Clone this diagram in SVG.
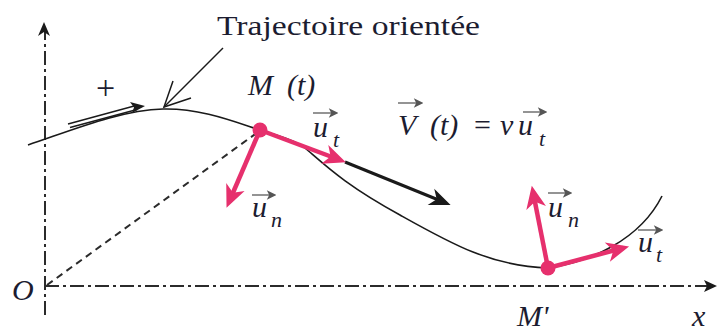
<svg xmlns="http://www.w3.org/2000/svg" width="718" height="331" viewBox="0 0 718 331">
<style>
.axis{fill:none;stroke:#2b2b2b;stroke-width:2;stroke-dasharray:14,4,3,4}
.curve{fill:none;stroke:#1a1a1a;stroke-width:1.6}
.dash{fill:none;stroke:#2b2b2b;stroke-width:2;stroke-dasharray:7,5}
.pink{fill:none;stroke:#e6306d;stroke-width:4.5;marker-end:url(#ph)}
.blk{fill:none;stroke:#1a1a1a;stroke-width:3;marker-end:url(#bh)}
.va{fill:none;stroke:#7a7a7a;stroke-width:1.6;marker-end:url(#vh)}
.m{font-family:"Liberation Serif","Times New Roman",serif;font-style:italic;font-size:30px;fill:#1c1c30}
.s{font-family:"Liberation Serif","Times New Roman",serif;font-style:italic;font-size:22px;fill:#1c1c30}
.r{font-family:"Liberation Serif","Times New Roman",serif;font-size:27px;fill:#1c1c30}
.dot{fill:#e6306d}
</style>
<defs>
<marker id="ph" markerUnits="userSpaceOnUse" markerWidth="30" markerHeight="30" viewBox="-16 -10 24 20" refX="0" refY="0" orient="auto">
<path d="M5,0 L-13,-8 L-8,0 L-13,8 Z" fill="#e6306d"/>
</marker>
<marker id="bh" markerUnits="userSpaceOnUse" markerWidth="30" markerHeight="30" viewBox="-16 -10 24 20" refX="0" refY="0" orient="auto">
<path d="M4,0 L-13,-7 L-8,0 L-13,7 Z" fill="#1a1a1a"/>
</marker>
<marker id="vh" markerUnits="userSpaceOnUse" markerWidth="12" markerHeight="12" viewBox="-8 -5 10 10" refX="0" refY="0" orient="auto">
<path d="M2,0 L-6,-4 L-4,0 L-6,4 Z" fill="#555"/>
</marker>
</defs>

<g id="axes">
<line class="axis" x1="45" y1="315" x2="45" y2="32"/>
<path d="M44,22 L38,36 L44,32 L50,36 Z" fill="#1a1a1a"/>
<line class="axis" x1="45" y1="286" x2="708" y2="286"/>
<path d="M717,286 L704,280 L707,286 L704,292 Z" fill="#1a1a1a"/>
<text class="m" x="12" y="300">O</text>
<text class="m" x="692" y="326">x</text>
</g>

<g id="trajectory">
<path class="curve" d="M28,145 C70,131 120,110 163,109 C200,108 235,122 260,130 C282,137 296,141 305,148 C325,165 345,185 400,215 C450,243 490,266 548,268 C590,262 640,240 662,196"/>
<text class="r" x="217" y="35" textLength="263" lengthAdjust="spacingAndGlyphs">Trajectoire orientée</text>
</g>

<g id="orientation">
<line x1="68" y1="124" x2="136" y2="105.5" stroke="#1a1a1a" stroke-width="1.4"/>
<line x1="70" y1="127.5" x2="137" y2="109.5" stroke="#1a1a1a" stroke-width="1.4"/>
<path d="M145,106 L130,102 L134,107.5 L132,113 Z" fill="#1a1a1a"/>
<text x="96" y="99" font-family="Liberation Serif, serif" font-size="34" fill="#1c1c30">+</text>
</g>

<g id="connectors">
<line x1="223" y1="48" x2="164" y2="107" stroke="#1a1a1a" stroke-width="1.5"/>
<path d="M173,81 L164,107 L191,98" fill="none" stroke="#1a1a1a" stroke-width="1.5"/>
<line class="dash" x1="47" y1="285" x2="258" y2="132"/>
<line class="blk" x1="345" y1="162" x2="446" y2="203"/>
<line class="pink" x1="260" y1="130" x2="340" y2="160"/>
<line class="pink" x1="260" y1="130" x2="229" y2="202"/>
<line class="pink" x1="548" y1="268" x2="533" y2="192"/>
<line class="pink" x1="548" y1="268" x2="623" y2="248"/>
</g>

<g id="M">
<circle class="dot" cx="260" cy="130" r="7.5"/>
<text class="m" x="248" y="95">M</text>
<text class="m" x="287" y="95">(t)</text>
<line class="va" x1="313" y1="113" x2="336" y2="113"/>
<text class="m" x="313" y="137">u</text>
<text class="s" x="333" y="147">t</text>
<line class="va" x1="252" y1="195" x2="274" y2="195"/>
<text class="m" x="252" y="217">u</text>
<text class="s" x="271" y="227">n</text>
</g>

<g id="velocity">
<line class="va" x1="398" y1="103" x2="421" y2="103"/>
<text class="m" x="398" y="135">V</text>
<text class="m" x="430" y="135">(t)</text>
<text x="474" y="135" font-family="Liberation Serif, serif" font-size="30" fill="#1c1c30">=</text>
<text class="m" x="500" y="135">v</text>
<line class="va" x1="523" y1="112" x2="545" y2="112"/>
<text class="m" x="518" y="135">u</text>
<text class="s" x="539" y="146">t</text>
</g>

<g id="Mprime">
<circle class="dot" cx="548" cy="268" r="7.5"/>
<text class="m" x="517" y="326">M'</text>
<line class="va" x1="548" y1="193" x2="570" y2="193"/>
<text class="m" x="548" y="217">u</text>
<text class="s" x="568" y="227">n</text>
<line class="va" x1="638" y1="230" x2="661" y2="230"/>
<text class="m" x="638" y="252">u</text>
<text class="s" x="656" y="262">t</text>
</g>
</svg>
